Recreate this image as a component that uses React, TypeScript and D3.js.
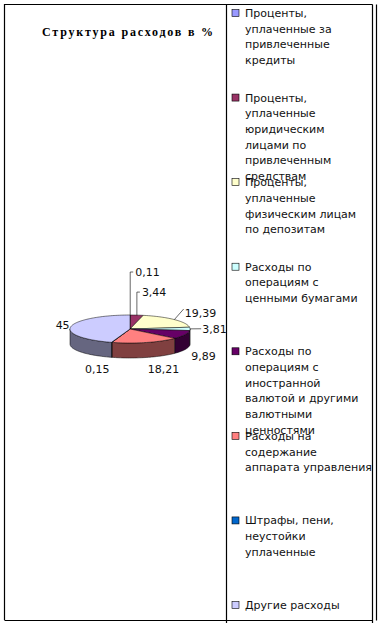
import * as d3 from "d3"

// Доли расходов, %, по часовой стрелке от 12 часов (как в Excel)
const VALUES = [0.11, 3.44, 19.39, 3.81, 9.89, 18.21, 0.15, 45]
const VALUE_TEXT = ["0,11", "3,44", "19,39", "3,81", "9,89", "18,21", "0,15", "45"]
const COLORS = [
  "#9999FF",
  "#993366",
  "#FFFFCC",
  "#CCFFFF",
  "#660066",
  "#FF8080",
  "#0066CC",
  "#CCCCFF",
]
const LEGEND_LINES = [
  ["Проценты,", "уплаченные за", "привлеченные", "кредиты"],
  ["Проценты,", "уплаченные", "юридическим", "лицами по", "привлеченным", "средствам"],
  ["Проценты,", "уплаченные", "физическим лицам", "по депозитам"],
  ["Расходы по", "операциям с", "ценными бумагами"],
  ["Расходы по", "операциям с", "иностранной", "валютой и другими", "валютными", "ценностями"],
  ["Расходы на", "содержание", "аппарата управления"],
  ["Штрафы, пени,", "неустойки", "уплаченные"],
  ["Другие расходы"],
]
const TITLE = "Структура расходов в %"

const W = 384
const H = 623
const CX = 130
const CY = 329
const RX = 60
const RY = 14
const DEPTH = 15
const FONT = "'DejaVu Sans', sans-serif"

// small slices at the top get lifted labels with leader lines (Excel did it by hand)
const LIFT: Record<number, number> = { 0: 43, 1: 23 }

function pt(a: number, dy = 0): [number, number] {
  return [CX + RX * Math.sin(a), CY - RY * Math.cos(a) + dy]
}

function arcPts(a0: number, a1: number, dy = 0) {
  const n = Math.max(2, Math.ceil(Math.abs(a1 - a0) / 0.03))
  return d3.range(n + 1).map((i) => pt(a0 + ((a1 - a0) * i) / n, dy))
}

const line = d3.line()

export default function App() {
  const arcs = d3.pie<number>().sort(null).value((d) => d)(VALUES)
  const legendY = d3
    .scalePoint<number>()
    .domain(d3.range(LEGEND_LINES.length))
    .range([13, 605])

  const sides = arcs
    .map((a, i) => {
      const b0 = Math.max(a.startAngle, Math.PI / 2)
      const b1 = Math.min(a.endAngle, (3 * Math.PI) / 2)
      if (b1 <= b0) return null
      const pts = [...arcPts(b0, b1), ...arcPts(b1, b0, DEPTH)]
      return { i, d: line(pts) + "Z" }
    })
    .filter((s): s is { i: number; d: string } => s !== null)

  return (
    <div style={{ position: "absolute", left: 0, top: 0 }}>
      <svg width={W} height={H} style={{ display: "block", background: "#fff" }}>
        {/* рамка */}
        <g stroke="#000" strokeWidth={1.2} fill="none">
          <path d="M4.5,620 V4.5 H372.5" />
          <path d="M4.5,620.5 H372.5" />
          <path d="M226.5,4.5 V623" />
          <path d="M372.5,4.5 V623" />
          <path d="M376.5,4.5 V620.5" />
        </g>

        <text
          x={42}
          y={36}
          textLength={171}
          lengthAdjust="spacing"
          fontFamily="'Liberation Serif', serif"
          fontWeight={700}
          fontSize={12}
          fill="#000"
        >
          {TITLE}
        </text>

        {/* боковые стенки */}
        <g stroke="#000" strokeWidth={0.5} strokeLinejoin="round">
          {sides.map((s) => (
            <path
              key={s.i}
              d={s.d}
              fill={d3.interpolateRgb(COLORS[s.i], "#000")(0.5)}
            />
          ))}
        </g>

        {/* верхняя грань */}
        <g stroke="#000" strokeWidth={0.5} strokeLinejoin="round">
          {arcs.map((a, i) => (
            <path
              key={i}
              d={line([[CX, CY], ...arcPts(a.startAngle, a.endAngle)]) + "Z"}
              fill={COLORS[i]}
            />
          ))}
        </g>

        {/* подписи значений */}
        <g fontFamily={FONT} fontSize={11} fill="#111">
          {arcs.map((a, i) => {
            const m = (a.startAngle + a.endAngle) / 2
            const s = Math.sin(m)
            const c = Math.cos(m)
            if (LIFT[i] != null) {
              const [ex, ey] = pt(m)
              const ly = ey - LIFT[i]
              return (
                <g key={i}>
                  <path
                    d={`M${ex},${ey} V${ly} H${ex + 3}`}
                    fill="none"
                    stroke="#000"
                    strokeWidth={0.6}
                  />
                  <text x={ex + 5} y={ly + 4}>
                    {VALUE_TEXT[i]}
                  </text>
                </g>
              )
            }
            const front = c < 0 ? DEPTH + 2 : 0
            const lx = CX + RX * 1.12 * s
            const ly = CY - RY * 1.7 * c + front
            const anchor = s > 0.1 ? "start" : s < -0.1 ? "end" : "middle"
            const hasLeader = i === 2 || i === 3
            const [ex, ey] = pt(m)
            return (
              <g key={i}>
                {hasLeader && (
                  <path
                    d={`M${ex},${ey} L${lx + 4},${ly - (i === 2 ? 4 : 0)}`}
                    fill="none"
                    stroke="#000"
                    strokeWidth={0.6}
                  />
                )}
                <text
                  x={lx + (hasLeader ? 5 : 0) + (i === 7 ? 6 : 0)}
                  y={ly + 4}
                  textAnchor={anchor}
                >
                  {VALUE_TEXT[i]}
                </text>
              </g>
            )
          })}
        </g>

        {/* легенда */}
        <g fontFamily={FONT} fontSize={11} fill="#111">
          {LEGEND_LINES.map((lines, i) => {
            const y0 = legendY(i) ?? 0
            return (
              <g key={i}>
                <rect
                  x={232}
                  y={y0 - 3.5}
                  width={7}
                  height={7}
                  fill={COLORS[i]}
                  stroke="#000"
                  strokeWidth={0.6}
                />
                {lines.map((t, j) => (
                  <text key={j} x={245} y={y0 + 4 + j * 15.7}>
                    {t}
                  </text>
                ))}
              </g>
            )
          })}
        </g>
      </svg>
    </div>
  )
}
